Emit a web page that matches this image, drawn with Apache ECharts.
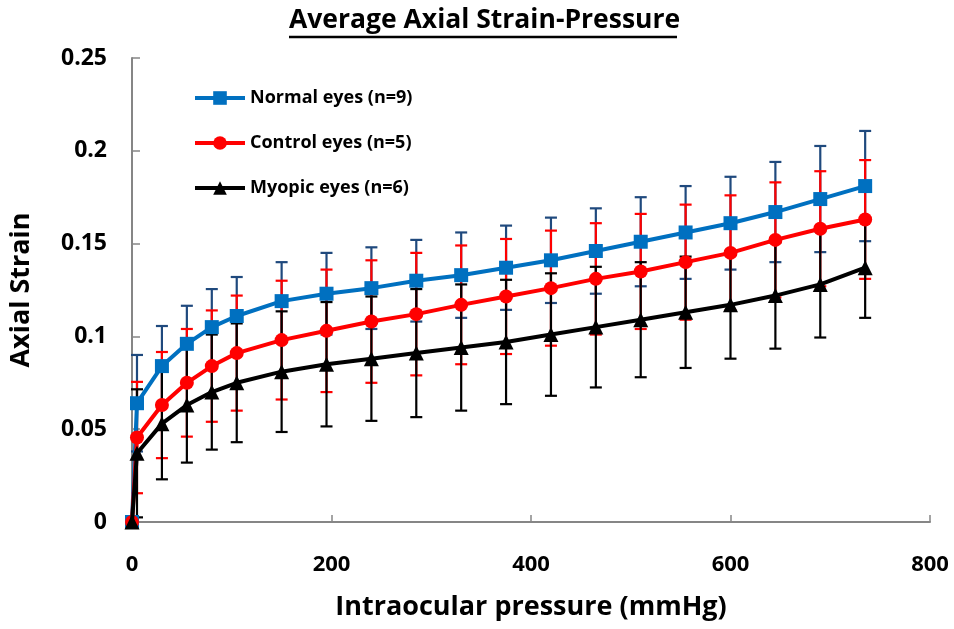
<!DOCTYPE html>
<html>
<head>
<meta charset="utf-8">
<script src="https://cdn.jsdelivr.net/npm/echarts@6/dist/echarts.min.js"></script>
<style>html,body{margin:0;padding:0;background:#fff;}#main{width:954px;height:629px;}</style>
</head>
<body>
<div id="main"></div>
<script>
var pressure = [0, 5, 30, 55, 80, 105, 150, 195, 240, 285, 330, 375, 420, 465, 510, 555, 600, 645, 690, 735];
var normalMean = [0, 0.064, 0.084, 0.096, 0.105, 0.111, 0.119, 0.123, 0.126, 0.130, 0.133, 0.137, 0.141, 0.146, 0.151, 0.156, 0.161, 0.167, 0.174, 0.181];
var normalErr  = [0, 0.026, 0.0216, 0.0205, 0.0205, 0.021, 0.021, 0.022, 0.022, 0.022, 0.023, 0.0227, 0.023, 0.023, 0.024, 0.025, 0.025, 0.027, 0.0286, 0.0297];
var controlMean = [0, 0.0455, 0.063, 0.075, 0.084, 0.091, 0.098, 0.103, 0.108, 0.112, 0.117, 0.1215, 0.126, 0.131, 0.135, 0.140, 0.145, 0.152, 0.158, 0.163];
var controlErr  = [0, 0.030, 0.0286, 0.029, 0.030, 0.031, 0.032, 0.033, 0.033, 0.033, 0.032, 0.031, 0.031, 0.030, 0.031, 0.031, 0.031, 0.031, 0.031, 0.032];
var myopicMean = [0, 0.037, 0.053, 0.063, 0.070, 0.075, 0.081, 0.085, 0.088, 0.091, 0.094, 0.097, 0.101, 0.105, 0.109, 0.113, 0.117, 0.122, 0.128, 0.137];
var myopicErr  = [0, 0.0345, 0.030, 0.031, 0.031, 0.032, 0.0325, 0.0335, 0.0335, 0.0345, 0.034, 0.0335, 0.033, 0.0325, 0.031, 0.030, 0.029, 0.0286, 0.0286, 0.027];
var seriesNames = ['Normal eyes (n=9)', 'Control eyes (n=5)', 'Myopic eyes (n=6)'];
var xTicks = [0, 200, 400, 600, 800];
var yTicks = [0, 0.05, 0.1, 0.15, 0.2, 0.25];

var FONT = 'Open Sans';
function pts(mean) { return pressure.map(function (p, i) { return [p, mean[i]]; }); }
function errData(mean, err) { return pressure.map(function (p, i) { return [p, mean[i] - err[i], mean[i] + err[i]]; }); }
function errSeries(mean, err, color) {
  return {
    type: 'custom', silent: true, z: 1,
    data: errData(mean, err),
    encode: { x: 0, y: [1, 2] },
    renderItem: function (params, api) {
      var x = api.value(0), lo = api.value(1), hi = api.value(2);
      if (hi - lo <= 0) return null;
      var a = api.coord([x, lo]), b = api.coord([x, hi]);
      var w = 6;
      var st = { stroke: color, lineWidth: 2.2 };
      return { type: 'group', children: [
        { type: 'line', shape: { x1: a[0], y1: a[1], x2: b[0], y2: b[1] }, style: st },
        { type: 'line', shape: { x1: a[0] - w, y1: a[1], x2: a[0] + w, y2: a[1] }, style: st },
        { type: 'line', shape: { x1: b[0] - w, y1: b[1], x2: b[0] + w, y2: b[1] }, style: st }
      ]};
    }
  };
}
function lineSeries(name, mean, color, symbol, size, z) {
  return {
    name: name, type: 'line', data: pts(mean), z: z,
    symbol: symbol, symbolSize: size, showAllSymbol: true,
    lineStyle: { color: color, width: 4 },
    itemStyle: { color: color, borderWidth: 0 },
    emphasis: { disabled: true }
  };
}
var chart = echarts.init(document.getElementById('main'), null, { renderer: 'canvas' });
chart.setOption({
  animation: false,
  backgroundColor: '#ffffff',
  title: {
    text: 'Average Axial Strain-Pressure', left: 284, top: 2,
    textStyle: { fontFamily: FONT, fontWeight: 'bold', fontSize: 26.5, color: '#000' }
  },
  graphic: [{ type: 'line', shape: { x1: 289, y1: 37, x2: 677, y2: 37 }, style: { stroke: '#000', lineWidth: 2.5 } }],
  legend: {
    orient: 'vertical', left: 193, top: 89, padding: 0, itemWidth: 50, itemHeight: 17, itemGap: 27,
    data: seriesNames,
    lineStyle: { width: 4 },
    textStyle: { fontFamily: FONT, fontWeight: 'bold', fontSize: 18, color: '#000' }
  },
  grid: { left: 131, right: 24, top: 58, bottom: 107, containLabel: false },
  xAxis: {
    type: 'value', min: xTicks[0], max: xTicks[xTicks.length - 1], interval: 200,
    name: 'Intraocular pressure (mmHg)', nameLocation: 'middle', nameGap: 72,
    nameTextStyle: { fontFamily: FONT, fontWeight: 'bold', fontSize: 27, color: '#000' },
    axisLine: { lineStyle: { color: '#868686', width: 2 } },
    axisTick: { show: true, inside: true, length: 7, lineStyle: { color: '#868686', width: 1.5 } },
    splitLine: { show: false },
    axisLabel: { fontFamily: FONT, fontWeight: 'bold', fontSize: 22, color: '#000', margin: 32 }
  },
  yAxis: {
    type: 'value', min: yTicks[0], max: yTicks[yTicks.length - 1], interval: 0.05,
    name: 'Axial Strain', nameLocation: 'middle', nameGap: 97,
    nameTextStyle: { fontFamily: FONT, fontWeight: 'bold', fontSize: 27, color: '#000' },
    axisLine: { show: true, lineStyle: { color: '#868686', width: 2 } },
    axisTick: { show: true, inside: true, length: 8, lineStyle: { color: '#868686', width: 1.5 } },
    splitLine: { show: false },
    axisLabel: { fontFamily: FONT, fontWeight: 'bold', fontSize: 23, color: '#000', margin: 25,
      formatter: function (v) { return String(Math.round(v * 100) / 100); } }
  },
  series: [
    errSeries(normalMean, normalErr, '#1F497D'),
    errSeries(controlMean, controlErr, '#FF0000'),
    errSeries(myopicMean, myopicErr, '#000000'),
    lineSeries(seriesNames[0], normalMean, '#0070C0', 'rect', 14, 3),
    lineSeries(seriesNames[1], controlMean, '#FF0000', 'circle', 14, 4),
    lineSeries(seriesNames[2], myopicMean, '#000000', 'triangle', 15, 5)
  ]
});
</script>
</body>
</html>
